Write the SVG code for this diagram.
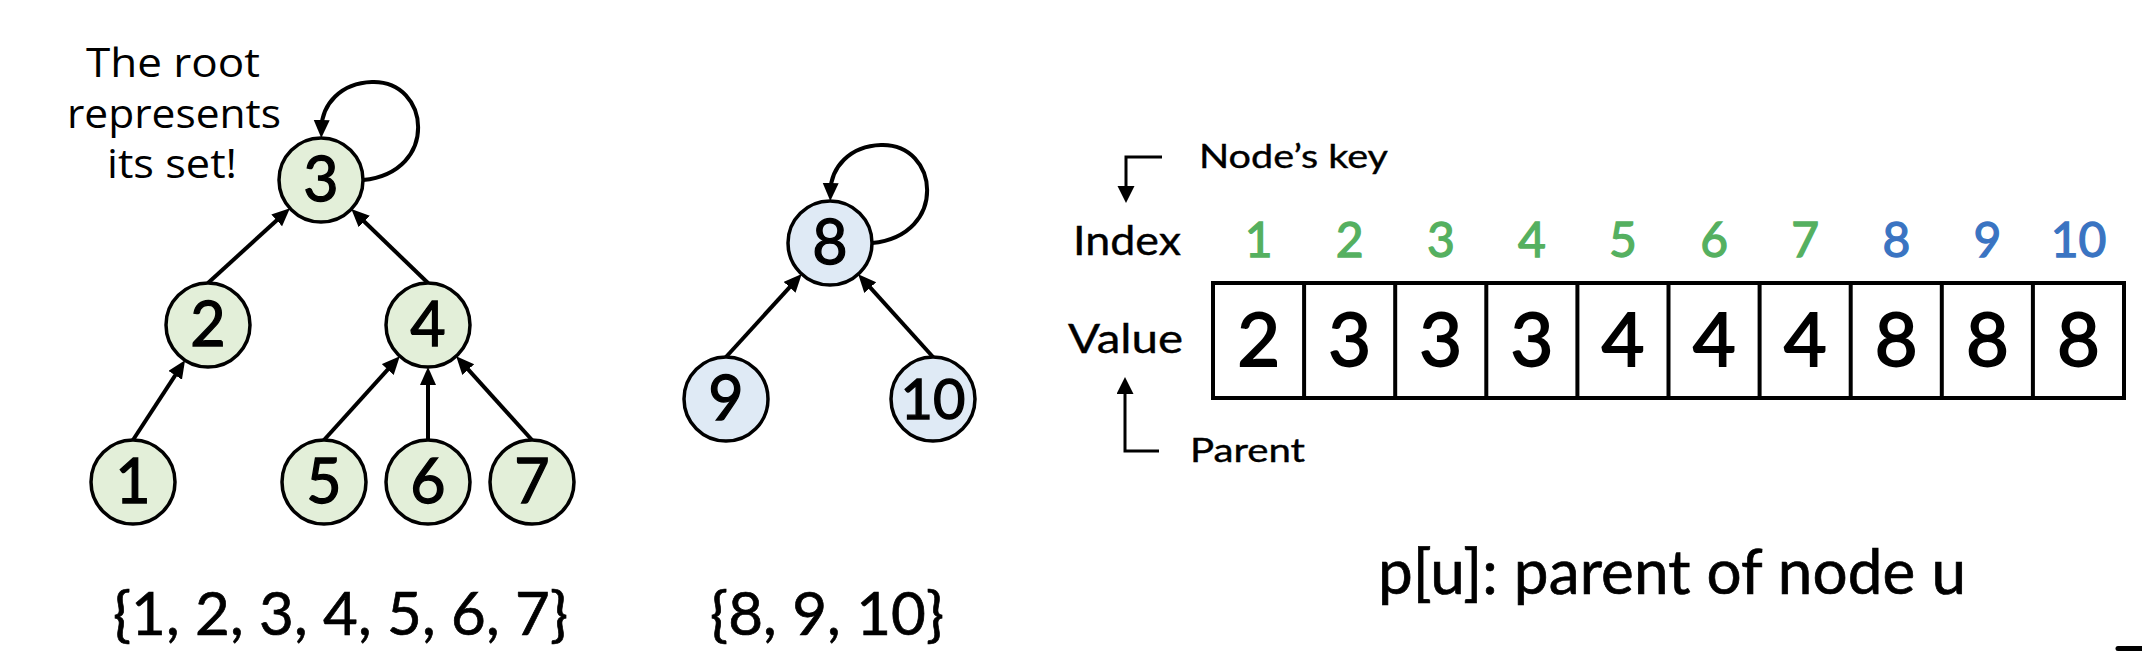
<svg xmlns="http://www.w3.org/2000/svg" width="2142" height="654" viewBox="0 0 2142 654">
<style>
.g{fill:#e3efd9;stroke:#000;stroke-width:3.5}
.b{fill:#dfeaf5;stroke:#000;stroke-width:3.5}
.nt{font-family:Lato,"Noto Sans",sans-serif;font-size:61px;text-anchor:middle;fill:#000;stroke:#000;stroke-width:1.3}
.e{fill:none;stroke:#000;stroke-width:4;marker-end:url(#ah)}
.lbl{font-family:"Open Sans","Noto Sans",sans-serif;font-size:40px;fill:#000}
.set{font-family:Lato,"Noto Sans",sans-serif;font-size:60px;fill:#000;stroke:#000;stroke-width:0.7}
.lab{font-family:Lato,"Noto Sans",sans-serif;fill:#000;stroke:#000;stroke-width:0.4}
.idx{font-family:Lato,"Noto Sans",sans-serif;font-size:48px;text-anchor:middle;stroke-width:1.3}
.val{font-family:Lato,"Noto Sans",sans-serif;font-size:74px;text-anchor:middle;fill:#000;stroke:#000;stroke-width:1.8}
.gr{fill:#55b060;stroke:#55b060}
.bl{fill:#3a74c2;stroke:#3a74c2}
.cell{fill:none;stroke:#000;stroke-width:4}
.ba{fill:none;stroke:#000;stroke-width:3;marker-end:url(#ah2)}
</style>
<defs>
<marker id="ah" markerUnits="userSpaceOnUse" markerWidth="20" markerHeight="18" refX="8" refY="8" orient="auto" viewBox="0 0 20 18">
<path d="M0,0 L18,8 L0,16 z" fill="#000"/>
</marker>
<marker id="ah2" markerUnits="userSpaceOnUse" markerWidth="20" markerHeight="18" refX="7" refY="8.5" orient="auto" viewBox="0 0 20 18">
<path d="M0,0 L17,8.5 L0,17 z" fill="#000"/>
</marker>
</defs>

<g id="connectors">
<path class="e" d="M208,283 L282.6,215.0"/>
<path class="e" d="M428,283 L358.5,216.0"/>
<path class="e" d="M133,440 L179.6,368.6"/>
<path class="e" d="M324,440 L393.1,363.6"/>
<path class="e" d="M428,440 L428,377"/>
<path class="e" d="M532,440 L462.9,363.6"/>
<path class="e" d="M363,180 C440,172 430,80 372,82 C340,83 322,105 321.5,128"/>
<path class="e" d="M726,357 L795.0,281.4"/>
<path class="e" d="M933,357 L864.9,281.6"/>
<path class="e" d="M872,243 C949,235 939,143 881,145 C849,146 831,168 830.5,191"/>
<path class="ba" d="M1162,157 L1126,157 L1126,193"/>
<path class="ba" d="M1159,451 L1125,451 L1125,387"/>
</g>

<g id="note">
<text class="lbl" x="86" y="77" textLength="174" lengthAdjust="spacingAndGlyphs">The root</text>
<text class="lbl" x="67" y="128" textLength="214" lengthAdjust="spacingAndGlyphs">represents</text>
<text class="lbl" x="107" y="178" textLength="130" lengthAdjust="spacingAndGlyphs">its set!</text>
</g>

<g id="node3"><circle class="g" cx="321" cy="180" r="42"/><text class="nt" x="321" y="201">3</text></g>
<g id="node2"><circle class="g" cx="208" cy="325" r="42"/><text class="nt" x="208" y="346">2</text></g>
<g id="node4"><circle class="g" cx="428" cy="325" r="42"/><text class="nt" x="428" y="346">4</text></g>
<g id="node1"><circle class="g" cx="133" cy="482" r="42"/><text class="nt" x="133" y="503">1</text></g>
<g id="node5"><circle class="g" cx="324" cy="482" r="42"/><text class="nt" x="324" y="503">5</text></g>
<g id="node6"><circle class="g" cx="428" cy="482" r="42"/><text class="nt" x="428" y="503">6</text></g>
<g id="node7"><circle class="g" cx="532" cy="482" r="42"/><text class="nt" x="532" y="503">7</text></g>

<g id="node8"><circle class="b" cx="830" cy="243" r="42"/><text class="nt" x="830" y="264">8</text></g>
<g id="node9"><circle class="b" cx="726" cy="399" r="42"/><text class="nt" x="726" y="420">9</text></g>
<g id="node10"><circle class="b" cx="933" cy="399" r="42"/><text class="nt" x="933" y="419" style="font-size:56px">10</text></g>

<g id="set1"><text class="set" x="113" y="635" textLength="455" lengthAdjust="spacing">{1, 2, 3, 4, 5, 6, 7}</text></g>
<g id="set2"><text class="set" x="710" y="635" textLength="234" lengthAdjust="spacing">{8, 9, 10}</text></g>

<g id="labels">
<text class="lab" x="1199" y="168" font-size="33" textLength="189" lengthAdjust="spacingAndGlyphs">Node’s key</text>
<text class="lab" x="1073" y="255" font-size="41" textLength="108" lengthAdjust="spacingAndGlyphs">Index</text>
<text class="lab" x="1068" y="353" font-size="41" textLength="115" lengthAdjust="spacingAndGlyphs">Value</text>
<text class="lab" x="1190" y="462" font-size="33" textLength="115" lengthAdjust="spacingAndGlyphs">Parent</text>
</g>

<g id="index">
<text class="idx gr" x="1258.6" y="257">1</text>
<text class="idx gr" x="1349.7" y="257">2</text>
<text class="idx gr" x="1440.8" y="257">3</text>
<text class="idx gr" x="1531.9" y="257">4</text>
<text class="idx gr" x="1623.0" y="257">5</text>
<text class="idx gr" x="1714.1" y="257">6</text>
<text class="idx gr" x="1805.2" y="257">7</text>
<text class="idx bl" x="1896.3" y="257">8</text>
<text class="idx bl" x="1987.4" y="257">9</text>
<text class="idx bl" x="2078.5" y="257">10</text>
</g>

<g id="array">
<rect class="cell" x="1213" y="283" width="911" height="115"/>
<path class="cell" d="M1304.1,283V398M1395.2,283V398M1486.3,283V398M1577.4,283V398M1668.5,283V398M1759.6,283V398M1850.7,283V398M1941.8,283V398M2032.9,283V398"/>
<text class="val" x="1258.6" y="366">2</text>
<text class="val" x="1349.7" y="366">3</text>
<text class="val" x="1440.8" y="366">3</text>
<text class="val" x="1531.9" y="366">3</text>
<text class="val" x="1623.0" y="366">4</text>
<text class="val" x="1714.1" y="366">4</text>
<text class="val" x="1805.2" y="366">4</text>
<text class="val" x="1896.3" y="366">8</text>
<text class="val" x="1987.4" y="366">8</text>
<text class="val" x="2078.5" y="366">8</text>
</g>

<g id="caption">
<text class="set" x="1378" y="594" style="font-size:62px" textLength="588" lengthAdjust="spacing">p[u]: parent of node u</text>
</g>

<g id="dash"><path d="M2118,648.5 L2145,648.5" stroke="#000" stroke-width="5" stroke-linecap="round"/></g>
</svg>
